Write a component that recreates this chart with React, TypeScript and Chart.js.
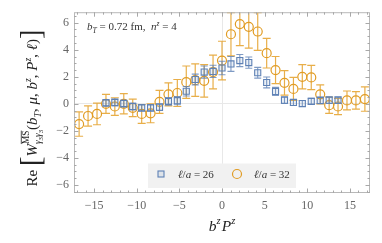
import { useEffect, useRef } from "react";
import { Chart, registerables } from "chart.js";

Chart.register(...registerables);

// b^z P^z positions (ℓ/a = 32 series)
const bzPz32 = [
  -16.76, -15.71, -14.66, -13.61, -12.57, -11.52, -10.47, -9.42, -8.38, -7.33, -6.28,
  -5.24, -4.19, -3.14, -2.09, -1.05, 0, 1.05, 2.09, 3.14, 4.19, 5.24, 6.28, 7.33, 8.38,
  9.42, 10.47, 11.52, 12.57, 13.61, 14.66, 15.71, 16.76,
];
const re32 = [
  -1.5, -0.9, -0.75, 0.0, -0.2, 0.0, -0.3, -0.75, -0.7, 0.15, 0.7, 0.8, 1.6, 1.75, 1.7,
  2.35, 3.2, 5.15, 5.9, 5.7, 5.35, 3.75, 2.5, 1.55, 1.1, 2.0, 1.95, 0.7, -0.1, -0.2,
  0.25, 0.25, 0.35,
];
const err32 = [
  0.9, 0.75, 0.8, 0.7, 0.65, 0.75, 0.65, 0.7, 0.7, 0.85, 0.85, 1.0, 1.2, 1.2, 1.2, 1.25,
  1.43, 1.6, 1.6, 1.58, 1.4, 1.1, 1.0, 0.9, 0.85, 0.9, 0.9, 0.7, 0.6, 0.6, 0.7, 0.65,
  0.9,
];

// ℓ/a = 26 series
const bzPz26 = [
  -13.61, -12.57, -11.52, -10.47, -9.42, -8.38, -7.33, -6.28, -5.24, -4.19, -3.14, -2.09,
  -1.05, 0, 1.05, 2.09, 3.14, 4.19, 5.24, 6.28, 7.33, 8.38, 9.42, 10.47, 11.52, 12.57,
  13.61,
];
const re26 = [
  0.07, 0.1, 0.02, -0.2, -0.3, -0.3, -0.25, 0.18, 0.23, 0.93, 1.8, 2.35, 2.4, 2.65, 2.95,
  3.2, 3.05, 2.3, 1.58, 0.92, 0.27, 0.1, 0.02, 0.18, 0.25, 0.27, 0.27,
];
const err26 = [
  0.25, 0.25, 0.25, 0.25, 0.25, 0.25, 0.25, 0.28, 0.3, 0.35, 0.4, 0.45, 0.45, 0.5, 0.55,
  0.45, 0.42, 0.4, 0.4, 0.3, 0.25, 0.22, 0.22, 0.22, 0.25, 0.25, 0.25,
];

const xTickValues = [-15, -10, -5, 0, 5, 10, 15];
const yTickValues = [-6, -4, -2, 0, 2, 4, 6];
const legendLabels = ["26", "32"];

const BLUE = "#5E81B5";
const ORANGE = "#E19C24";
const SERIF = "'Liberation Serif', 'DejaVu Serif', 'Times New Roman', serif";

type Run = { t: string; it?: boolean; s?: number; dy?: number; over?: boolean; keep?: boolean };

function layoutRuns(
  ctx: CanvasRenderingContext2D,
  list: Run[],
  base: number,
  x0: number,
  y0: number,
  draw: boolean
) {
  let x = x0;
  for (const r of list) {
    const size = base * (r.s ?? 1);
    ctx.font = `${r.it ? "italic " : ""}${size}px ${SERIF}`;
    const w = ctx.measureText(r.t).width;
    if (draw) {
      const y = y0 + (r.dy ?? 0) * base;
      ctx.fillText(r.t, x, y);
      if (r.over) {
        ctx.save();
        ctx.lineWidth = 0.8;
        ctx.strokeStyle = ctx.fillStyle as string;
        ctx.beginPath();
        ctx.moveTo(x, y - size * 0.8);
        ctx.lineTo(x + w, y - size * 0.8);
        ctx.stroke();
        ctx.restore();
      }
    }
    if (!r.keep) x += w;
  }
  return x - x0;
}

const fmt = (v: number | string) => {
  const n = Number(v);
  return n < 0 ? "\u2212" + Math.abs(n) : String(n);
};

const errorBarPlugin = {
  id: "errorBars",
  beforeDatasetDraw(chart: any, args: any) {
    const ds = chart.data.datasets[args.index];
    const errs: number[] = ds.errors;
    if (!errs) return;
    const { ctx, chartArea } = chart;
    const xs = chart.scales.x;
    const ys = chart.scales.y;
    ctx.save();
    ctx.beginPath();
    ctx.rect(chartArea.left, chartArea.top, chartArea.right - chartArea.left, chartArea.bottom - chartArea.top);
    ctx.clip();
    ctx.strokeStyle = ds.barColor;
    ctx.lineWidth = ds.barWidth;
    const cap = ds.capHalf;
    ds.data.forEach((p: any, i: number) => {
      const px = xs.getPixelForValue(p.x);
      const y1 = ys.getPixelForValue(p.y - errs[i]);
      const y2 = ys.getPixelForValue(p.y + errs[i]);
      ctx.beginPath();
      ctx.moveTo(px, y1);
      ctx.lineTo(px, y2);
      ctx.moveTo(px - cap, y1);
      ctx.lineTo(px + cap, y1);
      ctx.moveTo(px - cap, y2);
      ctx.lineTo(px + cap, y2);
      ctx.stroke();
    });
    ctx.restore();
  },
};

const framePlugin = {
  id: "frame",
  afterDatasetsDraw(chart: any) {
    const { ctx, chartArea } = chart;
    const { left, right, top, bottom } = chartArea;
    const xs = chart.scales.x;
    const ys = chart.scales.y;
    ctx.save();
    ctx.strokeStyle = "#b8b8b8";
    ctx.lineWidth = 1;
    ctx.strokeRect(left + 0.5, top + 0.5, right - left - 1, bottom - top - 1);
    ctx.strokeStyle = "#a8a8a8";
    ctx.beginPath();
    for (let v = -17; v <= 17; v += 1) {
      const px = Math.round(xs.getPixelForValue(v)) + 0.5;
      const len = v % 5 === 0 ? 4.5 : 2.5;
      ctx.moveTo(px, bottom);
      ctx.lineTo(px, bottom - len);
      ctx.moveTo(px, top);
      ctx.lineTo(px, top + len);
    }
    for (let v = -6.5; v <= 6.5; v += 0.5) {
      const py = Math.round(ys.getPixelForValue(v)) + 0.5;
      const len = v % 2 === 0 ? 4.5 : 2.5;
      ctx.moveTo(left, py);
      ctx.lineTo(left + len, py);
      ctx.moveTo(right, py);
      ctx.lineTo(right - len, py);
    }
    ctx.stroke();
    ctx.restore();
  },
};

const textPlugin = {
  id: "texts",
  afterDraw(chart: any) {
    const { ctx, chartArea } = chart;
    ctx.save();
    ctx.textBaseline = "alphabetic";
    ctx.textAlign = "left";

    // annotation
    ctx.fillStyle = "#333";
    layoutRuns(
      ctx,
      [
        { t: "b", it: true },
        { t: "T", it: true, s: 0.7, dy: 0.25 },
        { t: " = 0.72 fm,  " },
        { t: "n", it: true },
        { t: "z", it: true, s: 0.7, dy: -0.4 },
        { t: " = 4" },
      ],
      11,
      chartArea.left + 13,
      chartArea.top + 18,
      true
    );

    // x title
    const xRuns: Run[] = [
      { t: "b", it: true },
      { t: "z", it: true, s: 0.68, dy: -0.42 },
      { t: " ", s: 0.3 },
      { t: "P", it: true },
      { t: "z", it: true, s: 0.68, dy: -0.42 },
    ];
    ctx.fillStyle = "#222";
    const xw = layoutRuns(ctx, xRuns, 15.5, 0, 0, false);
    const xc = (chartArea.left + chartArea.right) / 2;
    layoutRuns(ctx, xRuns, 15.5, xc - xw / 2, 231, true);

    // y title
    const yRuns: Run[] = [
      { t: "Re " },
      { t: "[", s: 1.9, dy: 0.22 },
      { t: "W", it: true },
      { t: "MS", s: 0.62, dy: -0.55, over: true, keep: true },
      { t: "γ", it: true, s: 0.62, dy: 0.28 },
      { t: "3", s: 0.45, dy: 0.4 },
      { t: "γ", it: true, s: 0.62, dy: 0.28 },
      { t: "3", s: 0.45, dy: 0.4 },
      { t: "(" },
      { t: "b", it: true },
      { t: "T", it: true, s: 0.65, dy: 0.25 },
      { t: ", " },
      { t: "μ", it: true },
      { t: ", " },
      { t: "b", it: true },
      { t: "z", it: true, s: 0.65, dy: -0.42 },
      { t: ", " },
      { t: "P", it: true },
      { t: "z", it: true, s: 0.65, dy: -0.42 },
      { t: ", " },
      { t: "ℓ", it: true },
      { t: ")" },
      { t: "]", s: 1.9, dy: 0.22 },
    ];
    const base = 15;
    const yw = layoutRuns(ctx, yRuns, base, 0, 0, false);
    ctx.translate(37, 108);
    ctx.rotate(-Math.PI / 2);
    layoutRuns(ctx, yRuns, base, -yw / 2, 0, true);
    ctx.setTransform(1, 0, 0, 1, 0, 0);

    // legend
    const lx = 148, ly = 163.5, lw = 148, lh = 24.5;
    ctx.fillStyle = "#f1f1f1";
    ctx.fillRect(lx, ly, lw, lh);
    const cy = ly + 10.5;
    ctx.strokeStyle = BLUE;
    ctx.lineWidth = 1.1;
    ctx.fillStyle = "rgba(94,129,181,0.12)";
    ctx.fillRect(158, cy - 3, 6, 6);
    ctx.strokeRect(158, cy - 3, 6, 6);
    ctx.strokeStyle = ORANGE;
    ctx.lineWidth = 1.2;
    ctx.beginPath();
    ctx.arc(237, cy, 4.5, 0, Math.PI * 2);
    ctx.stroke();
    ctx.fillStyle = "#333";
    const legRun = (num: string): Run[] => [
      { t: "ℓ", it: true },
      { t: "/" },
      { t: "a", it: true },
      { t: " = " + num },
    ];
    layoutRuns(ctx, legRun(legendLabels[0]), 11, 178, ly + 14.5, true);
    layoutRuns(ctx, legRun(legendLabels[1]), 11, 254, ly + 14.5, true);
    ctx.restore();
  },
};

export default function App() {
  const ref = useRef<HTMLCanvasElement | null>(null);
  useEffect(() => {
    document.body.style.margin = "0";
    const canvas = ref.current;
    if (!canvas) return;
    const zeroGrid = (c: any) =>
      c.tick && c.tick.value === 0 ? "#e8e8e8" : "rgba(0,0,0,0)";
    const chart = new Chart(canvas, {
      type: "scatter",
      data: {
        datasets: [
          {
            label: "ℓ/a = 26",
            data: bzPz26.map((x, i) => ({ x, y: re26[i] })),
            pointStyle: "rect",
            pointRadius: 4.3,
            borderColor: BLUE,
            backgroundColor: "rgba(94,129,181,0.12)",
            borderWidth: 1.1,
            errors: err26,
            barColor: "rgba(94,129,181,0.8)",
            barWidth: 1.1,
            capHalf: 3.5,
          } as any,
          {
            label: "ℓ/a = 32",
            data: bzPz32.map((x, i) => ({ x, y: re32[i] })),
            pointStyle: "circle",
            pointRadius: 4.5,
            borderColor: ORANGE,
            backgroundColor: "rgba(0,0,0,0)",
            borderWidth: 1.2,
            errors: err32,
            barColor: "rgba(228,160,40,0.85)",
            barWidth: 1.2,
            capHalf: 4,
          } as any,
        ],
      },
      options: {
        responsive: false,
        animation: false,
        events: [],
        layout: { padding: { top: 10, right: 12, left: 0, bottom: 0 } },
        plugins: { legend: { display: false }, tooltip: { enabled: false } },
        scales: {
          x: {
            type: "linear",
            min: -17.36,
            max: 17.36,
            afterBuildTicks: (s: any) => {
              s.ticks = xTickValues.map((v) => ({ value: v }));
            },
            afterFit: (s: any) => {
              s.height = 50;
            },
            ticks: {
              callback: fmt,
              padding: 6,
              color: "#666",
              font: { family: SERIF, size: 12 },
              maxRotation: 0,
              autoSkip: false,
            },
            grid: { drawTicks: false, color: zeroGrid, lineWidth: 1 },
            border: { display: false },
          },
          y: {
            type: "linear",
            min: -6.6,
            max: 6.78,
            afterBuildTicks: (s: any) => {
              s.ticks = yTickValues.map((v) => ({ value: v }));
            },
            afterFit: (s: any) => {
              s.width = 74;
            },
            ticks: {
              callback: fmt,
              padding: 5,
              color: "#666",
              font: { family: SERIF, size: 12 },
              autoSkip: false,
            },
            grid: { drawTicks: false, color: zeroGrid, lineWidth: 1 },
            border: { display: false },
          },
        },
      },
      plugins: [errorBarPlugin, framePlugin, textPlugin],
    });
    return () => chart.destroy();
  }, []);
  return (
    <canvas
      ref={ref}
      width={382}
      height={243}
      style={{ display: "block", width: 382, height: 243 }}
    />
  );
}
